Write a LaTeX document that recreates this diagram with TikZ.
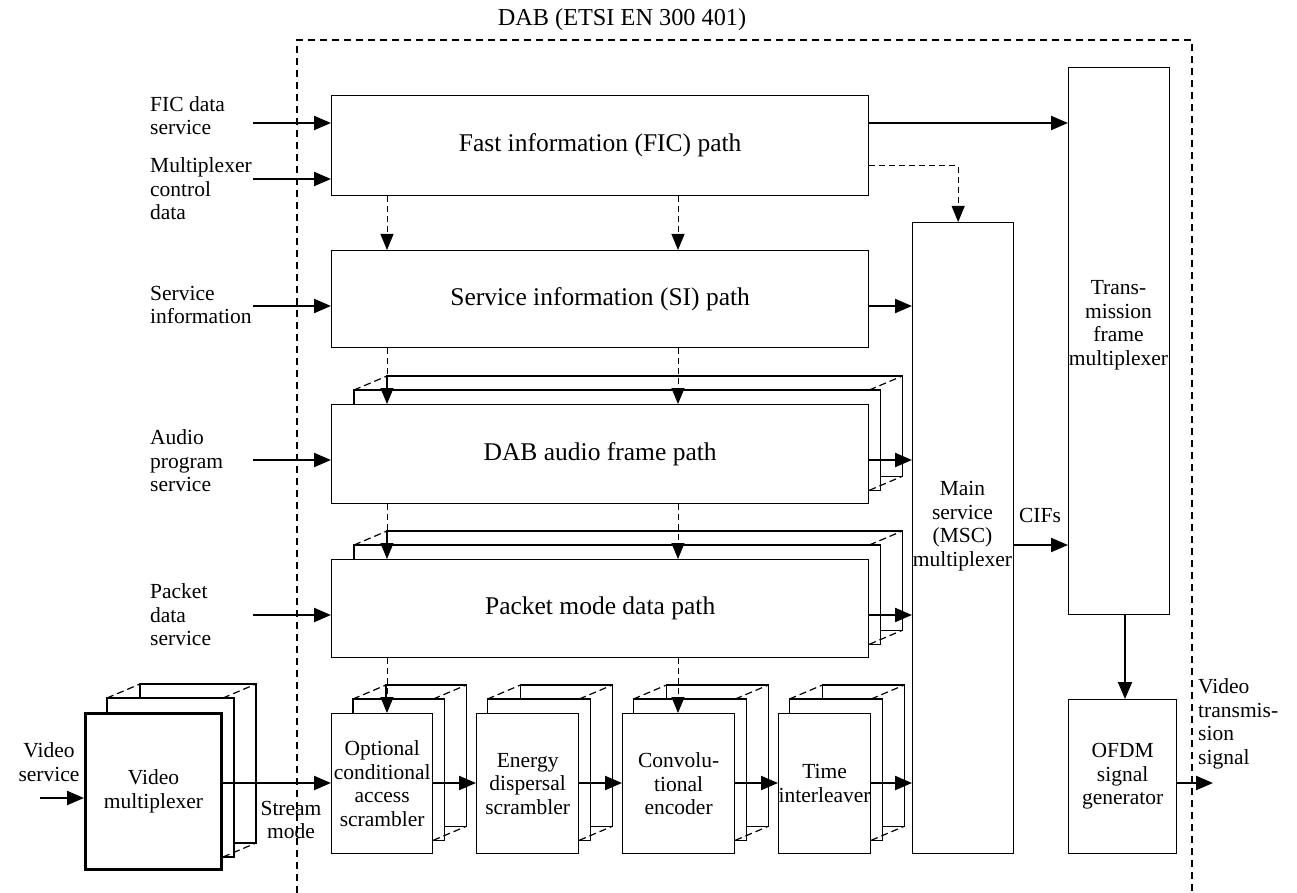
\documentclass[tikz,border=0pt]{standalone}
\usepackage{fontspec}
\setmainfont{Liberation Serif}
\usetikzlibrary{arrows.meta,calc,backgrounds}
\newcommand\mkstack[2]{%
  \path (#1.north west) coordinate (#1-nw) (#1.south east) coordinate (#1-se);
  \begin{scope}[on background layer]
    \draw[stk] ($(#1-nw)+(#2+33,-28)$) rectangle ($(#1-se)+(33,-28)$);
    \draw[stk] ($(#1-nw)+(#2,-14)$) rectangle ($(#1-se)+(11,-14)$);
    \draw[stkd] ($(#1-nw)+(#2,-14)$) -- ($(#1-nw)+(#2+33,-28)$);
    \draw[stkd] ($(#1-se |- #1-nw)+(0,-14)$) -- ($(#1-se |- #1-nw)+(33,-28)$);
    \draw[stkd] ($(#1-se)+(0,-14)$) -- ($(#1-se)+(33,-28)$);
  \end{scope}}
\begin{document}
\begin{tikzpicture}[x=1pt,y=-1pt,
  lab/.style={font=\fontsize{21.5}{23.5}\selectfont, inner sep=0pt},
  box/.style={draw, line width=1.3pt, fill=white, inner sep=0pt, anchor=north west, align=center, font=\fontsize{21.5}{23.5}\selectfont},
  pathbox/.style={box, font=\fontsize{25.5}{28}\selectfont},
  arr/.style={line width=2.2pt, -{Triangle[length=17pt,width=14pt]}},
  darr/.style={line width=1pt, dash pattern=on 6pt off 4pt, -{Triangle[length=16pt,width=13pt]}},
  stk/.style={draw, line width=1.3pt, fill=white},
  stkd/.style={line width=1.2pt, dash pattern=on 7pt off 4pt},
  dab/.style={line width=2pt, dash pattern=on 7pt off 5pt}]
\useasboundingbox (0,0) rectangle (1297,893);

% DAB boundary
\draw[dab] (297,893) -- (297,40) -- (1192,40) -- (1192,893);
\node[lab, font=\fontsize{24.3}{27}\selectfont, anchor=base] (title) at (622,26) {DAB (ETSI EN 300 401)};

% path boxes
\node[pathbox, minimum width=537pt, minimum height=100pt] (fic) at (331,95) {Fast information (FIC) path};
\node[pathbox, minimum width=537pt, minimum height=97pt] (si) at (331,250) {Service information (SI) path};
\node[pathbox, minimum width=537pt, minimum height=99pt] (audio) at (331,404) {DAB audio frame path};
\node[pathbox, minimum width=537pt, minimum height=98pt] (packet) at (331,559) {Packet mode data path};

% multiplexers
\node[box, minimum width=101pt, minimum height=631pt] (msc) at (912,222) {};
\node[lab, align=center] (msct) at (962.5,526) {Main\\service\\(MSC)\\multiplexer};
\node[box, minimum width=101pt, minimum height=547pt] (tfm) at (1068,67) {};
\node[lab, align=center] (tfmt) at (1118.5,325) {Trans-\\mission\\frame\\multiplexer};
\node[box, minimum width=108pt, minimum height=154pt] (ofdm) at (1068,699) {OFDM\\signal\\generator};

% bottom row
\node[box, line width=3pt, minimum width=136pt, minimum height=156pt] (vmux) at (84,712) {Video\\multiplexer};
\node[box, minimum width=101pt, minimum height=140pt] (ca) at (331,713) {Optional\\conditional\\access\\scrambler};
\node[box, minimum width=102pt, minimum height=140pt] (eds) at (476,713) {Energy\\dispersal\\scrambler};
\node[box, minimum width=112pt, minimum height=140pt] (conv) at (622,713) {Convolu-\\tional\\encoder};
\node[box, minimum width=90pt, minimum height=140pt] (til) at (778,713) {Time\\interleaver};

% stacks
\mkstack{audio}{23}
\mkstack{packet}{23}
\mkstack{vmux}{23}
\mkstack{ca}{22}
\mkstack{eds}{11.5}
\mkstack{conv}{11.5}
\mkstack{til}{11.5}

% left labels
\node[lab, align=left, anchor=west] (l1) at (150,115.7) {FIC data\\service};
\node[lab, align=left, anchor=west] (l2) at (150,189) {Multiplexer\\control\\data};
\node[lab, align=left, anchor=west] (l3) at (150,305) {Service\\information};
\node[lab, align=left, anchor=west] (l4) at (150,461) {Audio\\program\\service};
\node[lab, align=left, anchor=west] (l5) at (150,615) {Packet\\data\\service};
\node[lab, align=center] (l6) at (49,762) {Video\\service};
\node[lab, align=center] (l7) at (291,820) {Stream\\mode};
\node[lab, anchor=base] (cifs) at (1040,522) {CIFs};
\node[lab, align=left, anchor=west] (l8) at (1198,724) {Video\\transmis-\\sion\\signal};

% coordinates
\coordinate (i1) at (253,123);
\coordinate (i2) at (253,179);
\coordinate (i3) at (253,306);
\coordinate (i4) at (253,460);
\coordinate (i5) at (253,615);
\coordinate (i6) at (40,798);
\coordinate (xL) at (387,0);
\coordinate (xR) at (678,0);
\coordinate (yb) at (0,783);
\coordinate (yc) at (0,545);
\coordinate (yd) at (0,166);
\coordinate (xo) at (1125,0);
\coordinate (out) at (1213,783);

% inputs
\draw[arr] (i1) -- (i1 -| fic.west);
\draw[arr] (i2) -- (i2 -| fic.west);
\draw[arr] (i3) -- (i3 -| si.west);
\draw[arr] (i4) -- (i4 -| audio.west);
\draw[arr] (i5) -- (i5 -| packet.west);
\draw[arr] (i6) -- (i6 -| vmux.west);

% dashed control arrows
\draw[darr] (fic.south -| xL) -- (si.north -| xL);
\draw[darr] (fic.south -| xR) -- (si.north -| xR);
\draw[darr] (si.south -| xL) -- (audio.north -| xL);
\draw[darr] (si.south -| xR) -- (audio.north -| xR);
\draw[darr] (audio.south -| xL) -- (packet.north -| xL);
\draw[darr] (audio.south -| xR) -- (packet.north -| xR);
\draw[darr] (packet.south -| xL) -- (ca.north -| xL);
\draw[darr] (packet.south -| xR) -- (conv.north -| xR);
\draw[darr] (fic.east |- yd) -| ([xshift=-5pt]msc.north);

% main arrows
\draw[arr] (fic.east |- i1) -- (tfm.west |- i1);
\draw[arr] (si.east |- i3) -- (msc.west |- i3);
\draw[arr] (audio.east |- i4) -- (msc.west |- i4);
\draw[arr] (packet.east |- i5) -- (msc.west |- i5);
\draw[arr] (vmux.east |- yb) -- (ca.west |- yb);
\draw[arr] (ca.east |- yb) -- (eds.west |- yb);
\draw[arr] (eds.east |- yb) -- (conv.west |- yb);
\draw[arr] (conv.east |- yb) -- (til.west |- yb);
\draw[arr] (til.east |- yb) -- (msc.west |- yb);
\draw[arr] (msc.east |- yc) -- (tfm.west |- yc);
\draw[arr] (tfm.south -| xo) -- (ofdm.north -| xo);
\draw[arr] (ofdm.east |- out) -- (out);
\end{tikzpicture}
\end{document}
